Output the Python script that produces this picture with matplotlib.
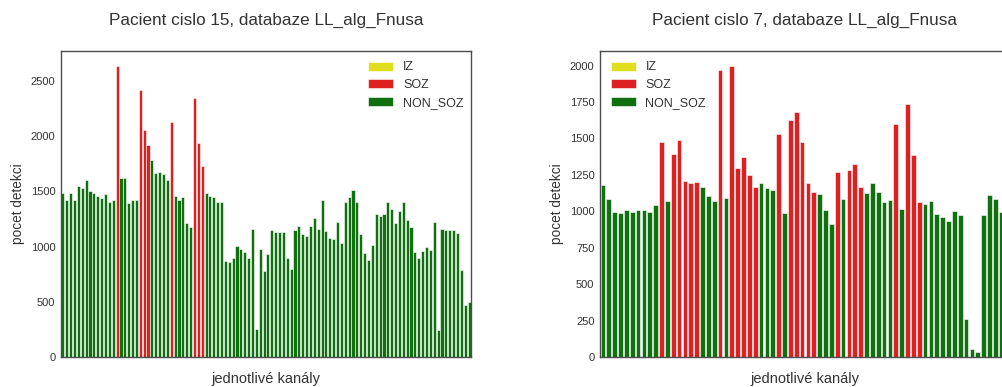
import numpy as np
import matplotlib
matplotlib.use('Agg')
import matplotlib.pyplot as plt
from matplotlib.patches import Patch

# hodnoty detekci pro jednotlive kanaly
p15_values = [1483, 1419, 1483, 1419, 1546, 1534, 1603, 1501, 1489, 1458,
              1443, 1474, 1404, 1419, 2639, 1618, 1621, 1398, 1419, 1419,
              2418, 2056, 1917, 1784, 1667, 1673, 1655, 1600, 2129, 1455,
              1419, 1449, 1211, 1181, 2346, 1941, 1733, 1489, 1455, 1449,
              1401, 1401, 867, 858, 894, 1003, 976, 949, 894, 1157,
              251, 981, 776, 930, 1148, 1130, 1136, 1130, 894, 794,
              1151, 1184, 1115, 1097, 1187, 1256, 1157, 1419, 1142, 1078,
              1070, 1220, 1036, 1404, 1449, 1510, 1401, 1111, 945, 876,
              1012, 1292, 1274, 1292, 1407, 1341, 1211, 1325, 1407, 1244,
              1175, 951, 897, 960, 993, 972, 1226, 245, 1160, 1148,
              1148, 1154, 1127, 785, 474, 498]
p15_soz = [14, 20, 21, 22, 28, 34, 35, 36]  # indexy SOZ kanalu

p7_values = [1182, 1081, 994, 985, 1010, 997, 1008, 1010, 994, 1042,
             1475, 1072, 1395, 1489, 1205, 1196, 1200, 1168, 1106, 1070,
             1968, 1088, 2000, 1299, 1372, 1249, 1168, 1196, 1161, 1143,
             1530, 985, 1629, 1682, 1475, 1196, 1134, 1120, 1008, 912,
             1267, 1081, 1285, 1324, 1168, 1125, 1191, 1134, 1065, 1077,
             1597, 1019, 1739, 1386, 1063, 1052, 1072, 981, 958, 933,
             1003, 974, 259, 53, 34, 976, 1109, 1081, 997, 1000]
p7_soz = [10, 12, 13, 14, 15, 16, 20, 22, 23, 24, 25, 26, 30, 32, 33, 34,
          35, 36, 40, 42, 43, 44, 50, 52, 53, 54]

# barvy jako v seabornu (saturation 0.75)
colors = {'IZ': '#dfdf20', 'SOZ': '#df2020', 'NON_SOZ': '#107010'}

plt.rcParams['font.family'] = ['Liberation Sans', 'DejaVu Sans']
plt.rcParams['text.color'] = '.2'
plt.rcParams['axes.labelcolor'] = '.2'
plt.rcParams['xtick.color'] = '.2'
plt.rcParams['ytick.color'] = '.2'


def plot_patient(ax, values, soz, title, yticks, legend_loc, legend_anchor):
    n = len(values)
    cols = [colors['SOZ'] if i in soz else colors['NON_SOZ'] for i in range(n)]
    ax.bar(np.arange(n), values, width=0.8, color=cols, edgecolor='white', linewidth=0.4)
    ax.set_xlim(-0.5, n - 0.5)
    ax.set_ylim(0, max(values) * 1.05)
    ax.set_xticks([])
    ax.set_yticks(yticks)
    ax.tick_params(axis='y', labelsize=8, length=0, pad=4)
    for s in ax.spines.values():
        s.set_color('.3')
        s.set_linewidth(1.0)
    ax.set_title(title, fontsize=12.3, pad=19)
    ax.set_xlabel('jednotlivé kanály', fontsize=10.5, labelpad=11)
    ax.set_ylabel('pocet detekci', fontsize=9.8, labelpad=4)
    handles = [Patch(facecolor=colors[k], edgecolor='white', linewidth=0.4, label=k)
               for k in ['IZ', 'SOZ', 'NON_SOZ']]
    ax.legend(handles=handles, loc=legend_loc, bbox_to_anchor=legend_anchor,
              frameon=False, fontsize=9, handlelength=2.0, handleheight=0.7,
              labelspacing=0.45, borderaxespad=0.6)


fig = plt.figure(figsize=(10.02, 3.87), dpi=100)
ax1 = fig.add_axes([61 / 1002, 30 / 387, 410 / 1002, 306 / 387])
ax2 = fig.add_axes([600 / 1002, 30 / 387, 410 / 1002, 306 / 387])

plot_patient(ax1, p15_values, p15_soz, 'Pacient cislo 15, databaze LL_alg_Fnusa',
             [0, 500, 1000, 1500, 2000, 2500], 'upper right', (1.0 + 5 / 410, 1.0 + 2 / 306))
plot_patient(ax2, p7_values, p7_soz, 'Pacient cislo 7, databaze LL_alg_Fnusa',
             [0, 250, 500, 750, 1000, 1250, 1500, 1750, 2000], 'upper left', (-2 / 410, 1.0 + 2 / 306))

fig.savefig('out.png', dpi=100)
